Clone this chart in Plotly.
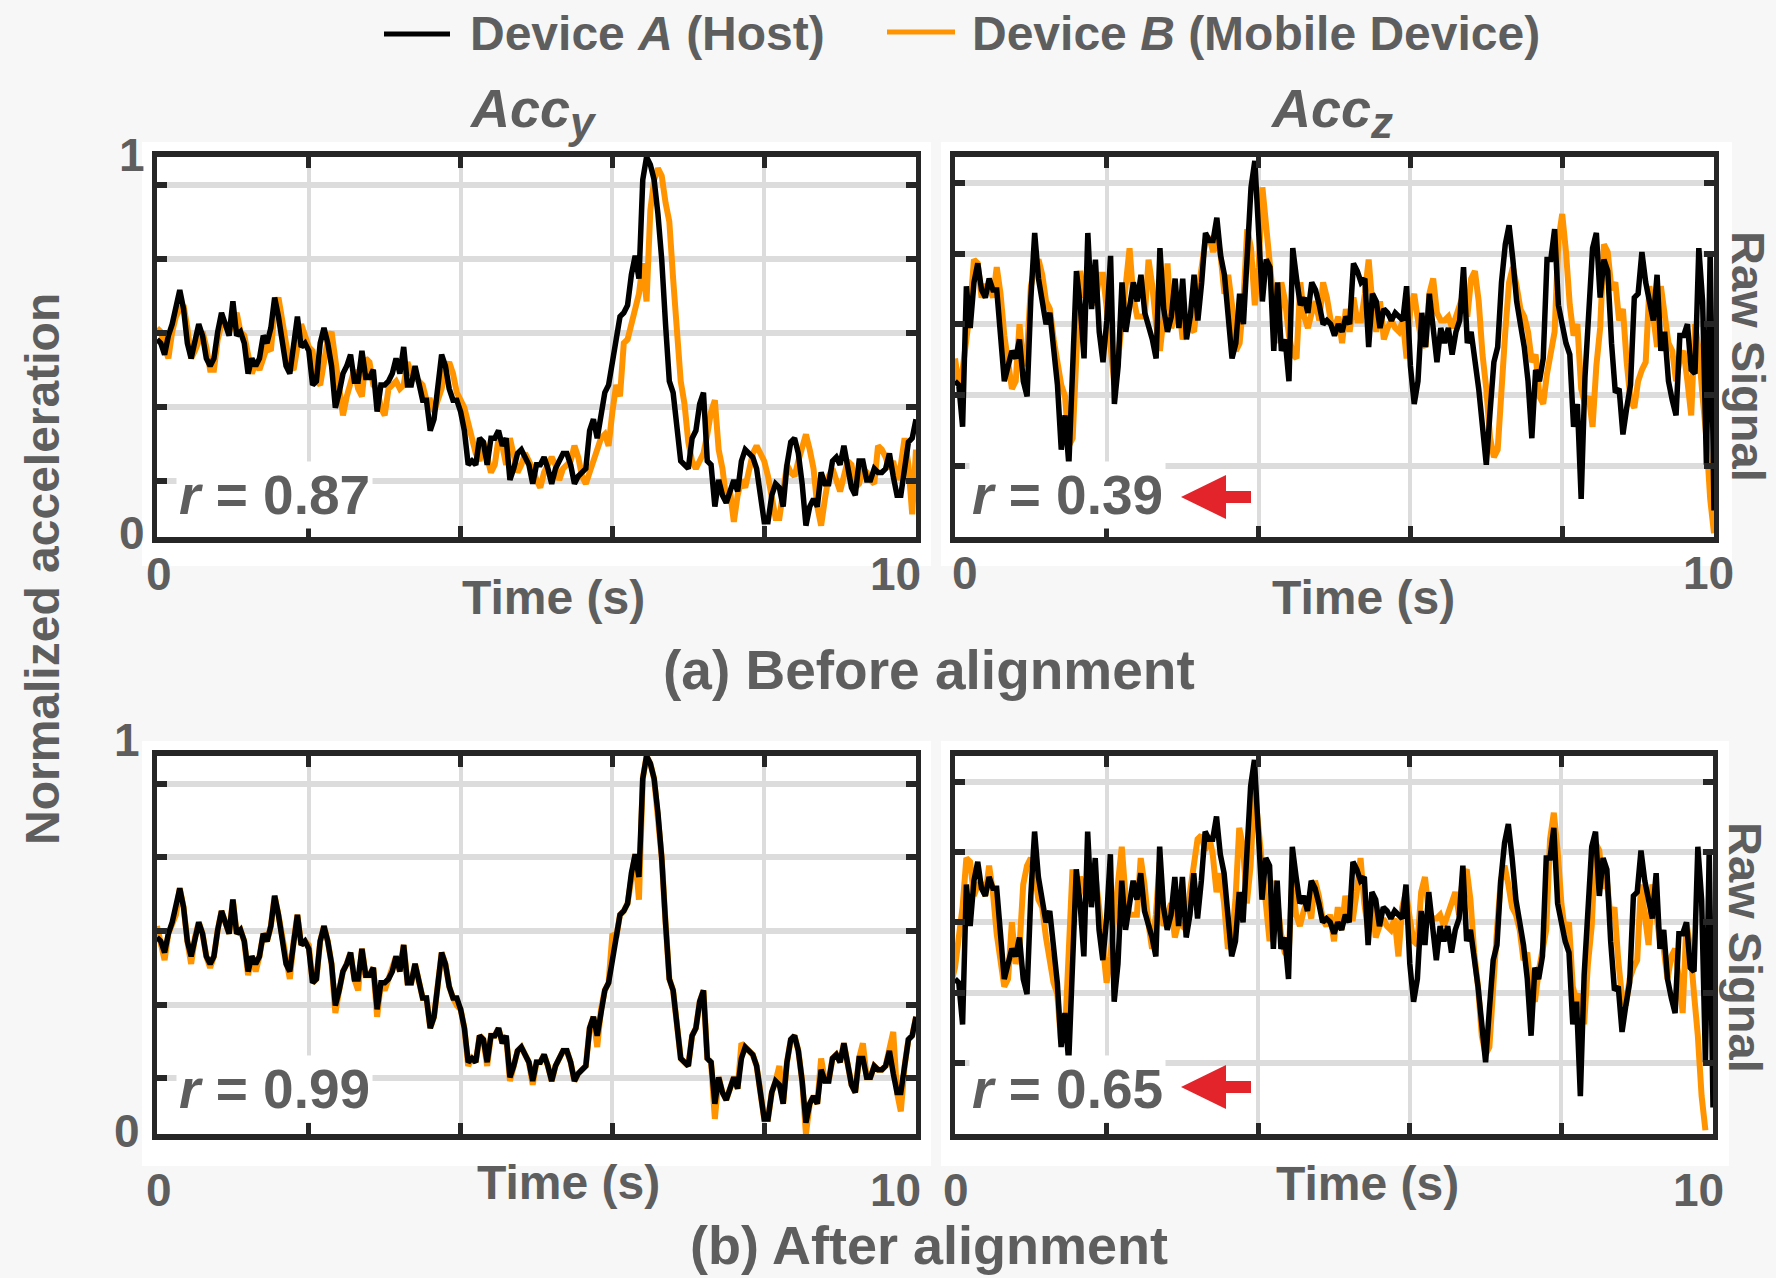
import numpy as np
import plotly.graph_objects as go

W, H = 1776, 1278
DT = 0.05  # sample period (s)

# ---------------- data (normalized acceleration) ----------------
black_accy = [
    0.52, 0.51, 0.48, 0.53, 0.56, 0.60, 0.65, 0.60, 0.51, 0.47,
    0.52, 0.56, 0.53, 0.47, 0.45, 0.47, 0.54, 0.59, 0.56, 0.53,
    0.62, 0.53, 0.54, 0.51, 0.43, 0.47, 0.45, 0.47, 0.53, 0.51,
    0.55, 0.63, 0.58, 0.52, 0.45, 0.43, 0.51, 0.58, 0.50, 0.51,
    0.49, 0.40, 0.41, 0.51, 0.55, 0.51, 0.45, 0.34, 0.38, 0.43,
    0.45, 0.48, 0.41, 0.41, 0.49, 0.42, 0.42, 0.44, 0.33, 0.40,
    0.40, 0.41, 0.43, 0.47, 0.43, 0.50, 0.40, 0.40, 0.45, 0.40,
    0.36, 0.36, 0.28, 0.31, 0.41, 0.48, 0.45, 0.39, 0.36, 0.36,
    0.33, 0.28, 0.19, 0.20, 0.19, 0.26, 0.25, 0.19, 0.26, 0.26,
    0.28, 0.24, 0.26, 0.15, 0.18, 0.22, 0.23, 0.21, 0.19, 0.14,
    0.19, 0.19, 0.21, 0.18, 0.14, 0.18, 0.20, 0.22, 0.22, 0.19,
    0.14, 0.16, 0.17, 0.18, 0.28, 0.31, 0.26, 0.33, 0.38, 0.40,
    0.47, 0.52, 0.58, 0.59, 0.61, 0.69, 0.74, 0.68, 0.94, 1.00,
    0.98, 0.94, 0.85, 0.73, 0.56, 0.41, 0.38, 0.28, 0.20, 0.19,
    0.18, 0.26, 0.28, 0.35, 0.38, 0.20, 0.19, 0.08, 0.15, 0.11,
    0.09, 0.12, 0.15, 0.12, 0.20, 0.23, 0.22, 0.21, 0.18, 0.12,
    0.04, 0.04, 0.11, 0.14, 0.13, 0.08, 0.19, 0.25, 0.26, 0.22,
    0.14, 0.03, 0.08, 0.10, 0.08, 0.17, 0.14, 0.14, 0.20, 0.21,
    0.19, 0.24, 0.19, 0.13, 0.11, 0.20, 0.20, 0.15, 0.15, 0.18,
    0.17, 0.17, 0.18, 0.22, 0.16, 0.11, 0.11, 0.18, 0.25, 0.26,
    0.31,
]

orange_accy_before = [
    0.55, 0.54, 0.50, 0.47, 0.54, 0.58, 0.60, 0.61, 0.55, 0.47,
    0.49, 0.52, 0.54, 0.50, 0.44, 0.44, 0.52, 0.56, 0.56, 0.54,
    0.57, 0.59, 0.54, 0.53, 0.48, 0.43, 0.46, 0.44, 0.47, 0.50,
    0.49, 0.60, 0.63, 0.57, 0.51, 0.45, 0.44, 0.51, 0.56, 0.53,
    0.50, 0.49, 0.41, 0.40, 0.46, 0.52, 0.54, 0.47, 0.40, 0.32,
    0.37, 0.41, 0.44, 0.39, 0.37, 0.47, 0.46, 0.40, 0.39, 0.34,
    0.32, 0.39, 0.40, 0.41, 0.39, 0.40, 0.46, 0.43, 0.42, 0.41,
    0.40, 0.36, 0.36, 0.33, 0.36, 0.39, 0.44, 0.46, 0.43, 0.38,
    0.36, 0.34, 0.30, 0.25, 0.22, 0.20, 0.25, 0.21, 0.17, 0.19,
    0.26, 0.24, 0.19, 0.26, 0.21, 0.17, 0.19, 0.22, 0.20, 0.18,
    0.15, 0.13, 0.17, 0.19, 0.21, 0.19, 0.15, 0.18, 0.19, 0.20,
    0.24, 0.21, 0.16, 0.14, 0.17, 0.20, 0.22, 0.26, 0.27, 0.24,
    0.33, 0.40, 0.37, 0.51, 0.52, 0.56, 0.61, 0.64, 0.72, 0.62,
    0.86, 0.94, 0.97, 0.95, 0.88, 0.83, 0.68, 0.53, 0.41, 0.35,
    0.25, 0.20, 0.18, 0.20, 0.22, 0.27, 0.33, 0.36, 0.23, 0.18,
    0.10, 0.12, 0.04, 0.11, 0.15, 0.13, 0.17, 0.22, 0.24, 0.22,
    0.20, 0.16, 0.11, 0.05, 0.05, 0.13, 0.19, 0.17, 0.16, 0.20,
    0.24, 0.27, 0.23, 0.18, 0.08, 0.03, 0.10, 0.16, 0.18, 0.15,
    0.12, 0.16, 0.20, 0.19, 0.13, 0.14, 0.18, 0.17, 0.15, 0.14,
    0.24, 0.23, 0.21, 0.18, 0.20, 0.15, 0.19, 0.26, 0.19, 0.06,
    0.23,
]

orange_accy_after = [
    0.55, 0.51, 0.46, 0.53, 0.56, 0.58, 0.65, 0.60, 0.51, 0.45,
    0.52, 0.56, 0.53, 0.47, 0.44, 0.47, 0.54, 0.59, 0.56, 0.53,
    0.62, 0.53, 0.54, 0.51, 0.42, 0.47, 0.43, 0.47, 0.53, 0.51,
    0.55, 0.63, 0.58, 0.52, 0.45, 0.41, 0.51, 0.58, 0.50, 0.51,
    0.50, 0.40, 0.41, 0.51, 0.55, 0.51, 0.45, 0.32, 0.38, 0.43,
    0.45, 0.48, 0.41, 0.38, 0.49, 0.42, 0.42, 0.44, 0.31, 0.40,
    0.38, 0.41, 0.43, 0.47, 0.43, 0.50, 0.40, 0.40, 0.45, 0.40,
    0.36, 0.36, 0.28, 0.31, 0.41, 0.48, 0.45, 0.39, 0.36, 0.34,
    0.33, 0.28, 0.18, 0.20, 0.19, 0.26, 0.25, 0.18, 0.26, 0.26,
    0.28, 0.24, 0.26, 0.14, 0.18, 0.22, 0.23, 0.21, 0.19, 0.13,
    0.19, 0.19, 0.21, 0.18, 0.14, 0.18, 0.20, 0.22, 0.22, 0.19,
    0.14, 0.16, 0.17, 0.18, 0.28, 0.31, 0.23, 0.33, 0.38, 0.40,
    0.53, 0.52, 0.58, 0.59, 0.61, 0.69, 0.74, 0.62, 0.94, 1.00,
    0.98, 0.94, 0.85, 0.73, 0.56, 0.41, 0.38, 0.28, 0.20, 0.19,
    0.18, 0.26, 0.28, 0.35, 0.38, 0.20, 0.19, 0.04, 0.15, 0.11,
    0.09, 0.12, 0.15, 0.12, 0.24, 0.23, 0.22, 0.21, 0.18, 0.12,
    0.04, 0.04, 0.11, 0.14, 0.18, 0.08, 0.19, 0.25, 0.26, 0.22,
    0.14, 0.00, 0.08, 0.10, 0.08, 0.20, 0.14, 0.14, 0.20, 0.21,
    0.19, 0.24, 0.19, 0.13, 0.11, 0.20, 0.24, 0.15, 0.15, 0.18,
    0.17, 0.17, 0.18, 0.22, 0.27, 0.11, 0.06, 0.18, 0.25, 0.26,
    0.31,
]

black_accz = [
    0.41, 0.40, 0.29, 0.66, 0.55, 0.67, 0.72, 0.65, 0.63, 0.68,
    0.65, 0.65, 0.53, 0.41, 0.45, 0.49, 0.47, 0.52, 0.41, 0.37,
    0.63, 0.80, 0.68, 0.62, 0.56, 0.59, 0.49, 0.40, 0.23, 0.32,
    0.19, 0.46, 0.70, 0.61, 0.47, 0.80, 0.60, 0.73, 0.54, 0.46,
    0.57, 0.74, 0.35, 0.45, 0.67, 0.54, 0.60, 0.67, 0.62, 0.69,
    0.59, 0.56, 0.52, 0.47, 0.76, 0.60, 0.54, 0.58, 0.68, 0.55,
    0.68, 0.52, 0.58, 0.69, 0.57, 0.67, 0.80, 0.78, 0.78, 0.84,
    0.74, 0.69, 0.58, 0.47, 0.51, 0.64, 0.56, 0.73, 0.92, 0.99,
    0.83, 0.62, 0.73, 0.71, 0.49, 0.67, 0.49, 0.52, 0.41, 0.76,
    0.68, 0.61, 0.63, 0.59, 0.67, 0.65, 0.61, 0.56, 0.57, 0.56,
    0.53, 0.56, 0.54, 0.58, 0.56, 0.72, 0.70, 0.67, 0.68, 0.50,
    0.64, 0.62, 0.55, 0.60, 0.59, 0.57, 0.59, 0.58, 0.57, 0.66,
    0.45, 0.35, 0.41, 0.59, 0.50, 0.64, 0.54, 0.46, 0.55, 0.51,
    0.55, 0.48, 0.54, 0.57, 0.71, 0.51, 0.54, 0.47, 0.39, 0.29,
    0.19, 0.33, 0.46, 0.50, 0.67, 0.77, 0.82, 0.73, 0.62, 0.56,
    0.50, 0.41, 0.26, 0.44, 0.41, 0.47, 0.73, 0.73, 0.81, 0.61,
    0.55, 0.51, 0.48, 0.29, 0.35, 0.10, 0.42, 0.60, 0.76, 0.80,
    0.63, 0.73, 0.70, 0.51, 0.38, 0.39, 0.27, 0.34, 0.40, 0.63,
    0.64, 0.75, 0.67, 0.62, 0.57, 0.69, 0.49, 0.54, 0.41, 0.36,
    0.32, 0.53, 0.53, 0.56, 0.44, 0.43, 0.76, 0.62, 0.19, 0.75,
    0.07,
]

orange_accz = [
    0.47, 0.40, 0.44, 0.51, 0.60, 0.73, 0.72, 0.63, 0.66, 0.66,
    0.63, 0.71, 0.64, 0.53, 0.46, 0.39, 0.41, 0.56, 0.45, 0.49,
    0.66, 0.71, 0.73, 0.69, 0.62, 0.60, 0.52, 0.46, 0.40, 0.37,
    0.24, 0.26, 0.49, 0.70, 0.63, 0.68, 0.65, 0.61, 0.69, 0.69,
    0.60, 0.50, 0.40, 0.47, 0.57, 0.64, 0.76, 0.63, 0.58, 0.58,
    0.58, 0.73, 0.66, 0.56, 0.49, 0.58, 0.72, 0.55, 0.58, 0.61,
    0.52, 0.56, 0.55, 0.54, 0.64, 0.71, 0.78, 0.79, 0.75, 0.79,
    0.74, 0.64, 0.69, 0.61, 0.49, 0.51, 0.62, 0.81, 0.76, 0.61,
    0.71, 0.92, 0.82, 0.72, 0.64, 0.51, 0.67, 0.62, 0.53, 0.48,
    0.47, 0.67, 0.58, 0.55, 0.59, 0.62, 0.57, 0.67, 0.63, 0.57,
    0.55, 0.58, 0.51, 0.60, 0.54, 0.63, 0.57, 0.57, 0.64, 0.73,
    0.61, 0.54, 0.62, 0.52, 0.55, 0.57, 0.55, 0.54, 0.57, 0.47,
    0.60, 0.64, 0.57, 0.51, 0.50, 0.64, 0.68, 0.59, 0.57, 0.57,
    0.58, 0.55, 0.58, 0.61, 0.64, 0.58, 0.68, 0.70, 0.62, 0.48,
    0.39, 0.26, 0.21, 0.23, 0.40, 0.54, 0.67, 0.71, 0.66, 0.60,
    0.58, 0.54, 0.46, 0.48, 0.37, 0.35, 0.43, 0.49, 0.54, 0.78,
    0.85, 0.75, 0.61, 0.53, 0.56, 0.39, 0.35, 0.37, 0.29, 0.45,
    0.55, 0.77, 0.75, 0.65, 0.67, 0.57, 0.60, 0.46, 0.36, 0.34,
    0.41, 0.44, 0.46, 0.66, 0.59, 0.50, 0.66, 0.59, 0.51, 0.49,
    0.41, 0.47, 0.49, 0.41, 0.32, 0.56, 0.49, 0.37, 0.26, 0.10,
    0.01,
]

LAG_Z = 0.10  # s, offset removed from Device B's Acc_z by the alignment

time_s = np.round(np.arange(len(black_accy)) * DT, 3)

x_grid = [2, 4, 6, 8]
ygrid_accy = [0.147, 0.342, 0.537, 0.732, 0.927]
ygrid_accz = [0.188, 0.374, 0.560, 0.746, 0.932]
r_before = ["0.87", "0.39"]
r_after = ["0.99", "0.65"]
series_names = ["Device <i>A</i> (Host)", "Device <i>B</i> (Mobile Device)"]

# ---------------- styling ----------------
FONT = "Liberation Sans, Arial, Helvetica, sans-serif"
GRAY = "#5e5e5e"
BLACK = "#000000"
ORANGE = "#FF9400"
RED = "#E3242B"
FRAME = "#262626"
GRID = "#DCDCDC"
BG = "#F7F7F7"


def fx(p):
    return p / W


def fy(p):
    return 1 - p / H


fig = go.Figure()

panels = [
    # (xaxis id, yaxis id, orange x, orange y, black y)
    ("x", "y", time_s, orange_accy_before, black_accy),
    ("x2", "y2", time_s, orange_accz, black_accz),
    ("x3", "y3", time_s, orange_accy_after, black_accy),
    ("x4", "y4", time_s - LAG_Z, orange_accz, black_accz),
]
for xa, ya, tx, oy, by in panels:
    fig.add_trace(go.Scatter(x=tx, y=oy, mode="lines", xaxis=xa, yaxis=ya,
                             line=dict(color=ORANGE, width=6), showlegend=False,
                             name="Device B"))
    fig.add_trace(go.Scatter(x=time_s, y=by, mode="lines", xaxis=xa, yaxis=ya,
                             line=dict(color=BLACK, width=5.5), showlegend=False,
                             name="Device A"))

xcommon = dict(range=[0, 10], tickvals=x_grid, showticklabels=False, ticks="inside",
               ticklen=11, tickwidth=5, tickcolor=FRAME, showline=True, linecolor=FRAME,
               linewidth=6, mirror="ticks", showgrid=True, gridcolor=GRID, gridwidth=4,
               zeroline=False)
ycommon = dict(range=[0, 1], showticklabels=False, ticks="inside",
               ticklen=10, tickwidth=6, tickcolor=FRAME, showline=True, linecolor=FRAME,
               linewidth=5, mirror="ticks", showgrid=True, gridcolor=GRID, gridwidth=6,
               zeroline=False)

top_y = [fy(537), fy(157)]
bot_y = [fy(1134), fy(756)]
fig.update_layout(
    xaxis=dict(domain=[fx(157), fx(916)], anchor="y", **xcommon),
    yaxis=dict(domain=top_y, anchor="x", tickvals=ygrid_accy, **ycommon),
    xaxis2=dict(domain=[fx(955), fx(1714)], anchor="y2", **xcommon),
    yaxis2=dict(domain=top_y, anchor="x2", tickvals=ygrid_accz, **ycommon),
    xaxis3=dict(domain=[fx(157), fx(916)], anchor="y3", **xcommon),
    yaxis3=dict(domain=bot_y, anchor="x3", tickvals=ygrid_accy, **ycommon),
    xaxis4=dict(domain=[fx(955), fx(1713)], anchor="y4", **xcommon),
    yaxis4=dict(domain=bot_y, anchor="x4", tickvals=ygrid_accz, **ycommon),
)

shapes = []
# white panels behind each subplot
for x0, x1, y0, y1 in [(142, 931, 142, 566), (941, 1732, 142, 566),
                       (142, 931, 741, 1166), (941, 1729, 741, 1166)]:
    shapes.append(dict(type="rect", xref="paper", yref="paper", x0=fx(x0), x1=fx(x1),
                       y0=fy(y1), y1=fy(y0), fillcolor="white", line=dict(width=0),
                       layer="below"))
# legend line samples
shapes.append(dict(type="line", xref="paper", yref="paper", x0=fx(384), x1=fx(450),
                   y0=fy(34), y1=fy(34), line=dict(color=BLACK, width=5)))
shapes.append(dict(type="line", xref="paper", yref="paper", x0=fx(887), x1=fx(955),
                   y0=fy(32), y1=fy(32), line=dict(color=ORANGE, width=5)))


# red arrows pointing at r values of Acc_z
def arrow_path(tip_x, cy):
    pts = [(tip_x, cy), (tip_x + 45, cy - 22), (tip_x + 45, cy - 6), (tip_x + 70, cy - 6),
           (tip_x + 70, cy + 6), (tip_x + 45, cy + 6), (tip_x + 45, cy + 22)]
    return "M " + " L ".join(f"{fx(a):.5f},{fy(b):.5f}" for a, b in pts) + " Z"


for cy in (497, 1087):
    shapes.append(dict(type="path", xref="paper", yref="paper", path=arrow_path(1181, cy),
                       fillcolor=RED, line=dict(width=0)))

ann = []


def text(x, y, s, size, xanchor="center", yanchor="middle", angle=0, color=GRAY, **kw):
    ann.append(dict(x=fx(x), y=fy(y), xref="paper", yref="paper", text=s, showarrow=False,
                    xanchor=xanchor, yanchor=yanchor, textangle=angle,
                    font=dict(family=FONT, size=size, color=color), **kw))


# legend texts
text(468, 33, f"<b>{series_names[0]}</b>", 48, xanchor="left")
text(970, 33, f"<b>{series_names[1]}</b>", 48, xanchor="left")
# column titles
text(533, 112, "<b><i>Acc<sub><span style='font-size:44px'>y</span></sub></i></b>", 54)
text(1331, 112, "<b><i>Acc<sub><span style='font-size:44px'>z</span></sub></i></b>", 54)
# y tick labels
text(132, 155, "<b>1</b>", 46)
text(132, 533, "<b>0</b>", 46)
text(127, 740, "<b>1</b>", 46)
text(127, 1131, "<b>0</b>", 46)
# x tick labels
for x0, x10, yy in [(159, 895, 574), (965, 1708, 573), (159, 895, 1190), (956, 1698, 1190)]:
    text(x0, yy, "<b>0</b>", 46)
    text(x10, yy, "<b>10</b>", 46)
# x axis titles
text(553, 597, "<b>Time (s)</b>", 48)
text(1363, 597, "<b>Time (s)</b>", 48)
text(568, 1182, "<b>Time (s)</b>", 48)
text(1367, 1183, "<b>Time (s)</b>", 48)
# section titles
text(929, 670, "<b>(a) Before alignment</b>", 55)
text(929, 1245, "<b>(b) After alignment</b>", 54)
# side labels
text(1749, 356, "<b>Raw Signal</b>", 47, angle=90)
text(1746, 947, "<b>Raw Signal</b>", 47, angle=90)
text(42, 569, "<b>Normalized acceleration</b>", 48, angle=-90)
# correlation coefficients
for (x, y), r in zip([(176, 495), (969, 495)], r_before):
    text(x, y, f"<b><i>r</i> = {r}</b>", 55, xanchor="left", bgcolor="white", borderpad=2)
for (x, y), r in zip([(176, 1089), (969, 1089)], r_after):
    text(x, y, f"<b><i>r</i> = {r}</b>", 55, xanchor="left", bgcolor="white", borderpad=2)

fig.update_layout(
    width=W, height=H, margin=dict(l=0, r=0, t=0, b=0),
    paper_bgcolor=BG, plot_bgcolor="white",
    shapes=shapes, annotations=ann, showlegend=False,
    font=dict(family=FONT, color=GRAY),
)

fig.write_html("out.html")
